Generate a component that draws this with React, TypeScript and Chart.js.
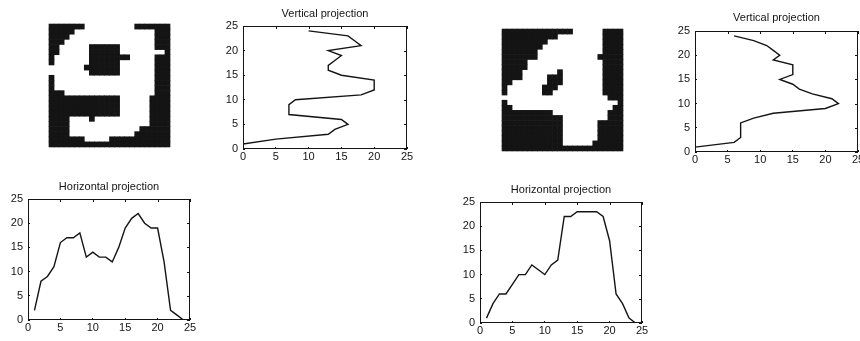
import React, { useEffect, useRef } from "react";
import { Chart, registerables } from "chart.js";

Chart.register(...registerables);

// ---------------- data ----------------
const AXIS_TICKS = [0, 5, 10, 15, 20, 25];
const ROW_INDEX = [1, 2, 3, 4, 5, 6, 7, 8, 9, 10, 11, 12, 13, 14, 15, 16, 17, 18, 19, 20, 21, 22, 23, 24];
const COLUMN_INDEX = [1, 2, 3, 4, 5, 6, 7, 8, 9, 10, 11, 12, 13, 14, 15, 16, 17, 18, 19, 20, 21, 22, 23, 24];

// digit "9": vertical projection (white pixels per row, row 1 = bottom)
const NINE_VERTICAL = [0, 5, 13, 14, 16, 15, 7, 7, 7, 8, 18, 20, 20, 20, 15, 13, 13, 14, 15, 13, 18, 17, 16, 10];
// digit "9": horizontal projection (white pixels per column)
const NINE_HORIZONTAL = [2, 8, 9, 11, 16, 17, 17, 18, 13, 14, 13, 13, 12, 15, 19, 21, 22, 20, 19, 19, 12, 2, 1, 0];
// digit "4": vertical projection
const FOUR_VERTICAL = [0, 6, 7, 7, 7, 7, 9, 12, 20, 22, 21, 18, 16, 15, 13, 15, 15, 15, 12, 13, 12, 11, 9, 6];
// digit "4": horizontal projection
const FOUR_HORIZONTAL = [1, 4, 6, 6, 8, 10, 10, 12, 11, 10, 12, 13, 22, 22, 23, 23, 23, 23, 22, 17, 6, 4, 1, 0];

// binary images, top row first ('#' = black, '.' = white)
const NINE_IMAGE = [
  "#######..........#######",
  "#####................###",
  "####.................###",
  "###..................###",
  "##......######.......###",
  "##......######.........#",
  "#.......########.....###",
  "#.......######.......###",
  ".......#######.......###",
  "........######.......###",
  "#....................###",
  "#....................###",
  "#....................###",
  "###..................###",
  "##############......####",
  "##############......####",
  "##############......####",
  "##############......####",
  "####....#...........####",
  "####................####",
  "####..............######",
  "####.............#######",
  "#######.....############",
  "########################",
];

const FOUR_IMAGE = [
  "##############......####",
  "###########.........####",
  "#########...........####",
  "########............####",
  "#######.............####",
  "#######............#####",
  "#####...............####",
  "#####...............####",
  "####.......#........####",
  "####.....###........####",
  "##.......###........####",
  "#.......###.........####",
  "#.......##..........####",
  ".....................###",
  "#......................#",
  "##....................##",
  "##########...........###",
  "############.........###",
  "############.......#####",
  "############.......#####",
  "############.......#####",
  "############.......#####",
  "############......######",
  "########################",
];

const TITLE_VERTICAL = "Vertical projection";
const TITLE_HORIZONTAL = "Horizontal projection";

// ---------------- styling / layout ----------------
const INK = "#141414";
const FONT = "'Liberation Sans', Arial, Helvetica, sans-serif";
const CANVAS_W = 900;
const CANVAS_H = 341;
const Y_AXIS_W = 20;
const X_AXIS_H = 16;
const FONT_SIZE = 11;
const LINE_H = FONT_SIZE * 1.2;
const TICK_LEN = 2;

type Box = { left: number; top: number; right: number; bottom: number };

const boxPlugin = {
  id: "matlabBox",
  afterDraw(chart: any) {
    const { ctx, chartArea: a, scales } = chart;
    const l = Math.round(a.left);
    const t = Math.round(a.top);
    const r = Math.round(a.right);
    const b = Math.round(a.bottom);
    ctx.save();
    ctx.strokeStyle = INK;
    ctx.lineWidth = 1;
    ctx.strokeRect(l + 0.5, t + 0.5, r - l - 1, b - t - 1);
    ctx.beginPath();
    scales.x.ticks.forEach((tk: any) => {
      const px = Math.round(scales.x.getPixelForValue(tk.value)) + 0.5;
      ctx.moveTo(px, t);
      ctx.lineTo(px, t + TICK_LEN + 1);
    });
    scales.y.ticks.forEach((tk: any) => {
      const py = Math.round(scales.y.getPixelForValue(tk.value)) + 0.5;
      ctx.moveTo(r, py);
      ctx.lineTo(r - TICK_LEN - 1, py);
    });
    ctx.stroke();
    ctx.restore();
  },
};

function axis(horizontal: boolean) {
  return {
    type: "linear",
    position: horizontal ? "bottom" : "left",
    min: AXIS_TICKS[0],
    max: AXIS_TICKS[AXIS_TICKS.length - 1],
    border: { display: false },
    grid: {
      display: true,
      drawOnChartArea: false,
      drawTicks: true,
      tickLength: -TICK_LEN,
      color: INK,
      lineWidth: 1,
    },
    ticks: {
      padding: horizontal ? 3 : 7,
      color: INK,
      font: { family: FONT, size: FONT_SIZE },
      autoSkip: false,
      maxRotation: 0,
      minRotation: 0,
    },
    afterBuildTicks: (s: any) => {
      s.ticks = AXIS_TICKS.map((v) => ({ value: v }));
    },
    afterFit: (s: any) => {
      if (horizontal) s.height = X_AXIS_H;
      else s.width = Y_AXIS_W;
    },
  };
}

function projectionConfig(title: string, points: { x: number; y: number }[], box: Box, titleY: number) {
  return {
    type: "scatter",
    data: {
      datasets: [
        {
          data: points,
          showLine: true,
          borderColor: INK,
          borderWidth: 1.4,
          pointRadius: 0,
          pointHoverRadius: 0,
          tension: 0,
        },
      ],
    },
    options: {
      animation: false,
      responsive: false,
      events: [],
      layout: {
        padding: {
          left: box.left - Y_AXIS_W,
          top: titleY - LINE_H / 2,
          right: CANVAS_W - box.right,
          bottom: CANVAS_H - box.bottom - X_AXIS_H,
        },
      },
      plugins: {
        legend: { display: false },
        tooltip: { enabled: false },
        title: {
          display: true,
          text: title,
          fullSize: false,
          color: INK,
          font: { family: FONT, size: FONT_SIZE, weight: "normal", lineHeight: 1.2 },
          padding: { top: 0, bottom: box.top - titleY - LINE_H / 2 },
        },
      },
      scales: { x: axis(true), y: axis(false) },
    },
    plugins: [boxPlugin],
  };
}

function imageConfig(grid: string[], box: Box) {
  const size = grid.length;
  const pts: { x: number; y: number }[] = [];
  grid.forEach((row, r) =>
    row.split("").forEach((ch, c) => {
      if (ch === "#") pts.push({ x: c, y: r });
    })
  );
  const cellRadius = (ctx: any) => {
    const a = ctx.chart.chartArea;
    const cell = a ? Math.max((a.right - a.left) / size, (a.bottom - a.top) / size) : 5;
    return (cell / 2 + 0.3) / Math.SQRT1_2;
  };
  return {
    type: "scatter",
    data: {
      datasets: [
        {
          data: pts,
          pointStyle: "rect",
          backgroundColor: INK,
          pointBackgroundColor: INK,
          pointBorderWidth: 0,
          borderWidth: 0,
          pointRadius: cellRadius,
          pointHoverRadius: cellRadius,
          clip: false,
        },
      ],
    },
    options: {
      animation: false,
      responsive: false,
      events: [],
      layout: {
        padding: {
          left: box.left,
          top: box.top,
          right: CANVAS_W - box.right,
          bottom: CANVAS_H - box.bottom,
        },
      },
      plugins: { legend: { display: false }, tooltip: { enabled: false }, title: { display: false } },
      scales: {
        x: { type: "linear", min: -0.5, max: size - 0.5, display: false },
        y: { type: "linear", min: -0.5, max: size - 0.5, reverse: true, display: false },
      },
    },
  };
}

const makeNineImage = () => imageConfig(NINE_IMAGE, { left: 49, top: 24, right: 170, bottom: 147 });
const makeFourImage = () => imageConfig(FOUR_IMAGE, { left: 502, top: 29, right: 623, bottom: 151 });

const makeNineVertical = () =>
  projectionConfig(
    TITLE_VERTICAL,
    ROW_INDEX.map((r, i) => ({ x: NINE_VERTICAL[i], y: r })),
    { left: 243, top: 26, right: 407, bottom: 149 },
    14
  );
const makeNineHorizontal = () =>
  projectionConfig(
    TITLE_HORIZONTAL,
    COLUMN_INDEX.map((c, i) => ({ x: c, y: NINE_HORIZONTAL[i] })),
    { left: 28, top: 199, right: 190, bottom: 320 },
    187
  );
const makeFourVertical = () =>
  projectionConfig(
    TITLE_VERTICAL,
    ROW_INDEX.map((r, i) => ({ x: FOUR_VERTICAL[i], y: r })),
    { left: 695, top: 31, right: 858, bottom: 152 },
    17.5
  );
const makeFourHorizontal = () =>
  projectionConfig(
    TITLE_HORIZONTAL,
    COLUMN_INDEX.map((c, i) => ({ x: c, y: FOUR_HORIZONTAL[i] })),
    { left: 480, top: 202, right: 642, bottom: 323 },
    190
  );

function ChartCanvas({ make }: { make: () => any }) {
  const ref = useRef<HTMLCanvasElement | null>(null);
  useEffect(() => {
    if (!ref.current) return;
    const chart = new Chart(ref.current, make());
    return () => chart.destroy();
  }, [make]);
  return (
    <canvas
      ref={ref}
      width={CANVAS_W}
      height={CANVAS_H}
      style={{ position: "absolute", left: 0, top: 0, width: CANVAS_W, height: CANVAS_H }}
    />
  );
}

export default function App() {
  return (
    <div
      style={{
        position: "absolute",
        left: 0,
        top: 0,
        width: 860,
        height: 341,
        overflow: "hidden",
        background: "#ffffff",
      }}
    >
      <ChartCanvas make={makeNineImage} />
      <ChartCanvas make={makeNineVertical} />
      <ChartCanvas make={makeNineHorizontal} />
      <ChartCanvas make={makeFourImage} />
      <ChartCanvas make={makeFourVertical} />
      <ChartCanvas make={makeFourHorizontal} />
    </div>
  );
}
